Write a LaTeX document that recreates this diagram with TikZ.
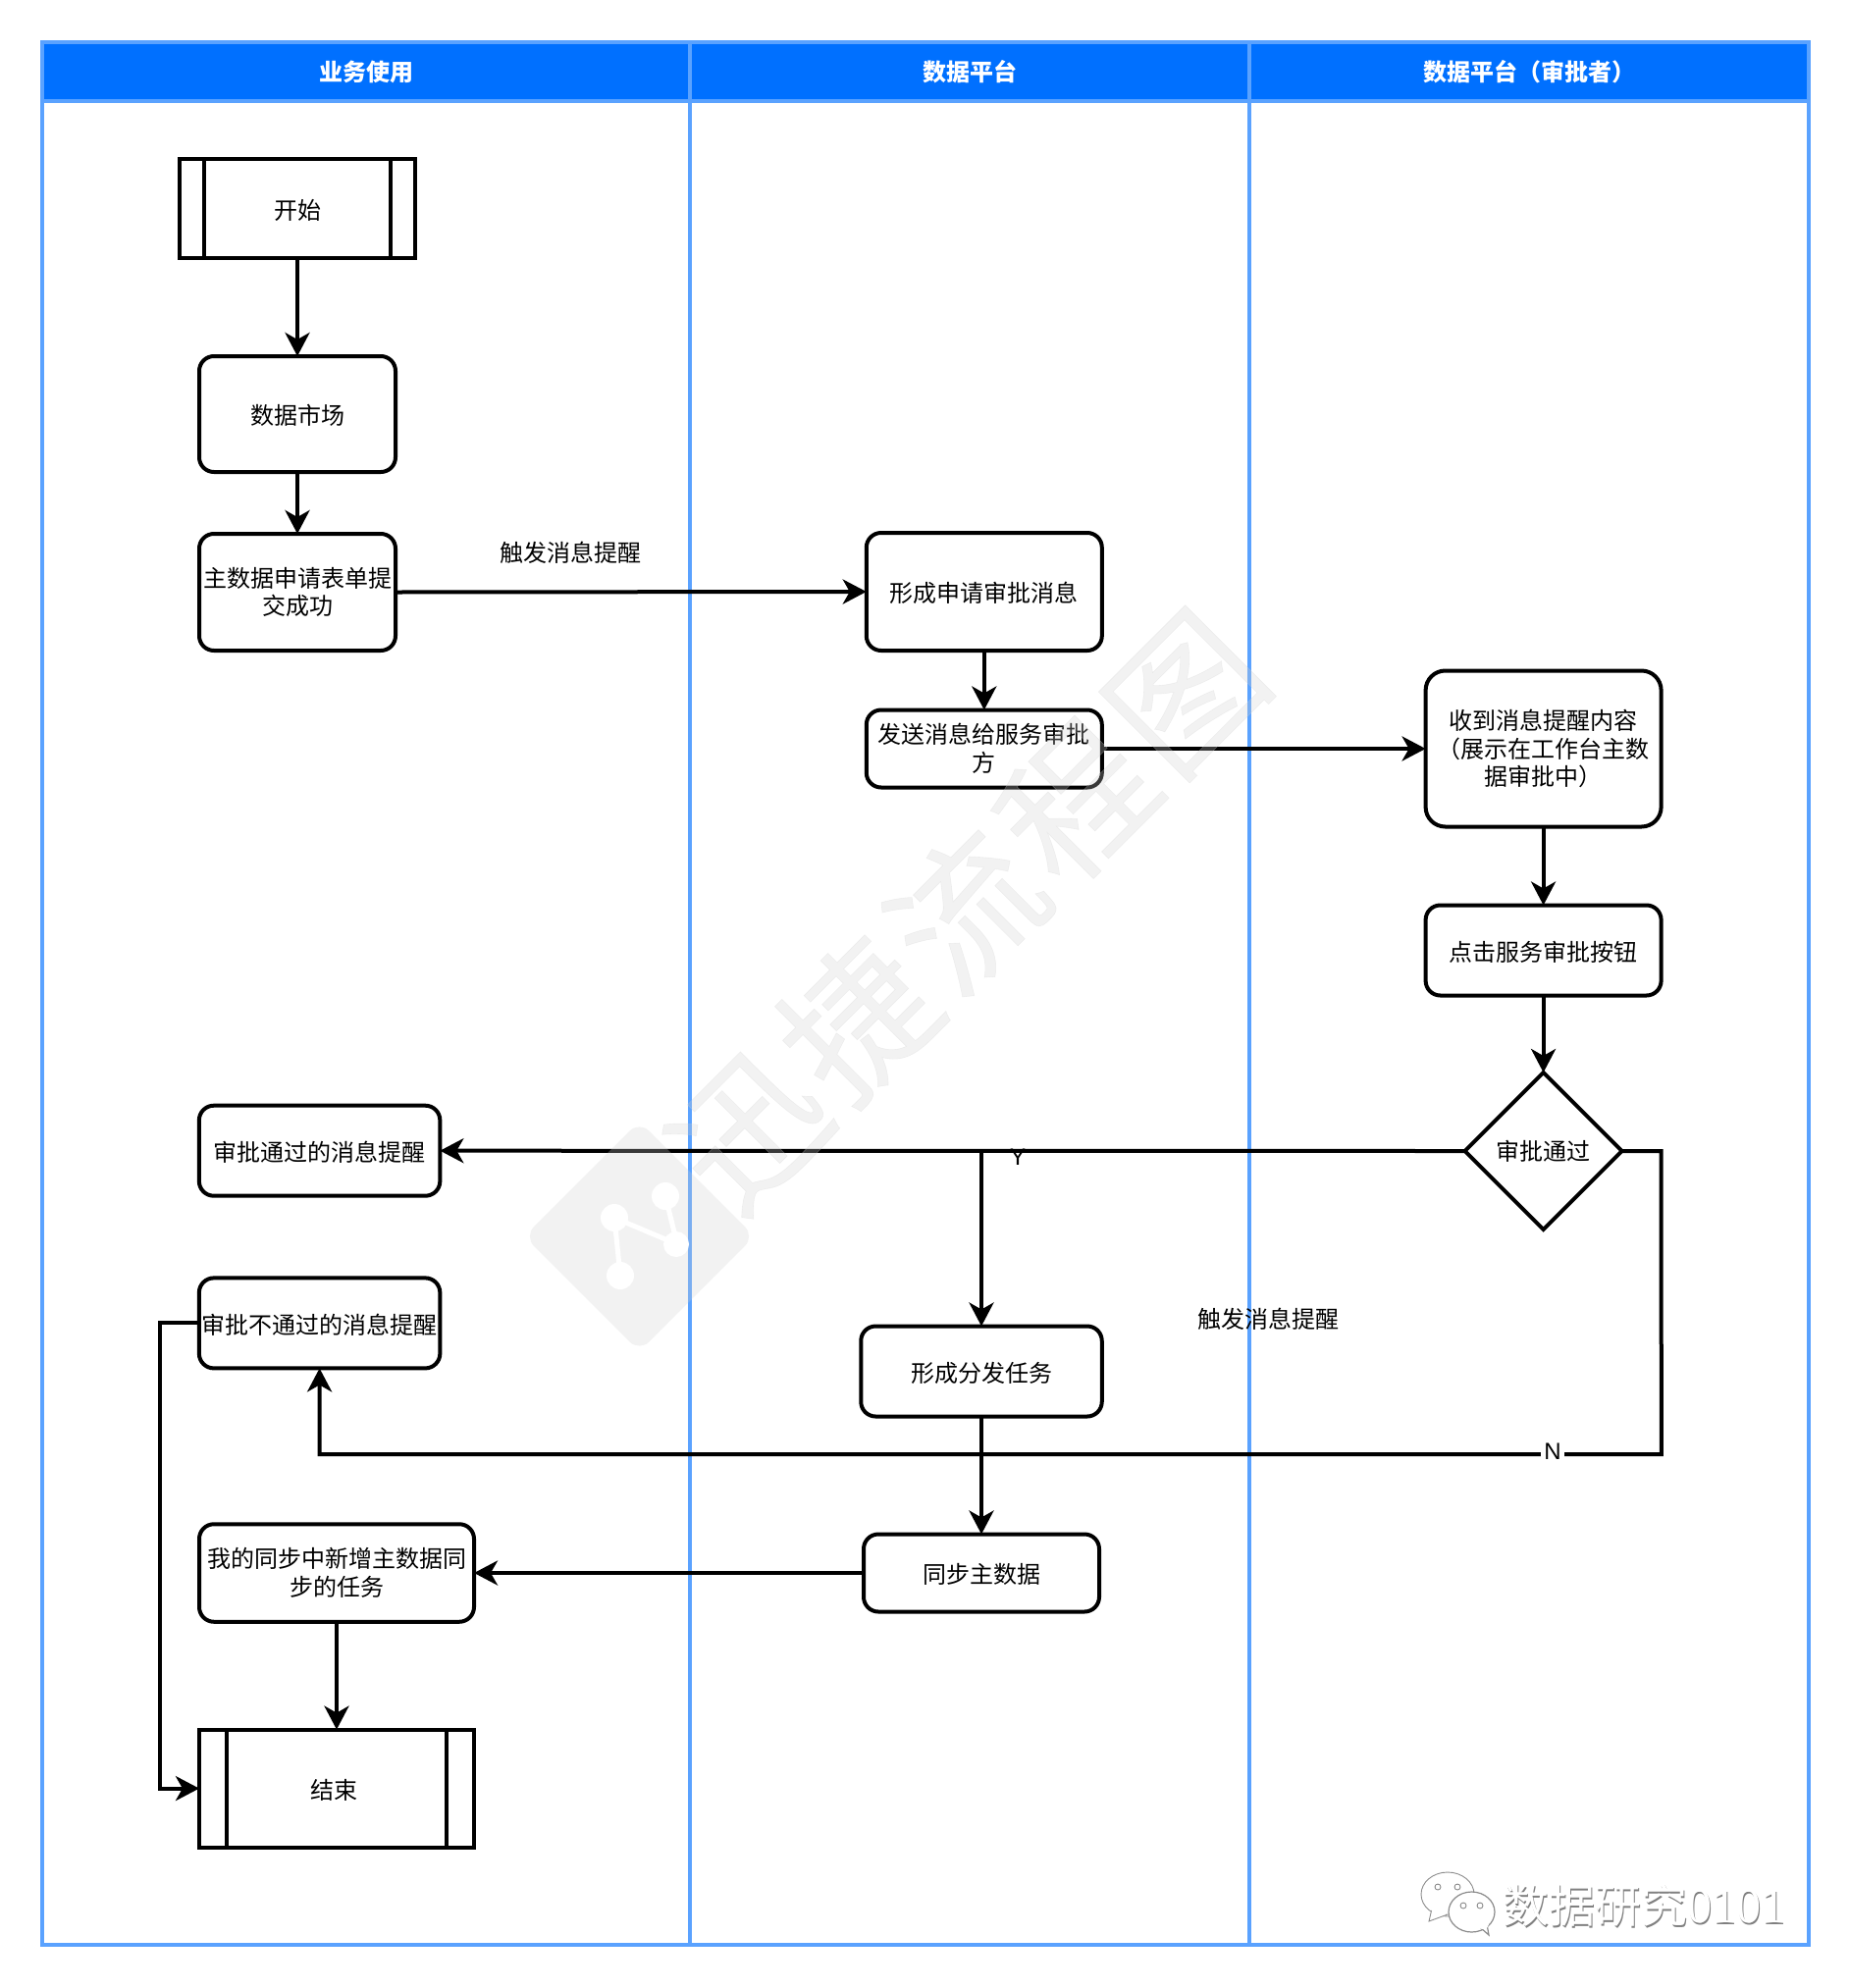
\documentclass[tikz,border=0pt]{standalone}
\usepackage{fontspec}
\setmainfont{Noto Sans CJK SC}
\newfontfamily\latinfont{Liberation Sans}
\newfontfamily\digitfont{Liberation Serif}
\usetikzlibrary{arrows.meta,shapes.geometric}
\definecolor{laneline}{HTML}{5AA2FF}
\definecolor{headfill}{HTML}{0070FF}
\definecolor{wmgray}{HTML}{D0D0D0}
\tikzset{
  base/.style={draw=black,line width=4pt,fill=none,inner sep=0pt,outer sep=0pt,align=center,text=black,font=\fontsize{24}{28.5}\selectfont},
  rbox/.style={base,rounded corners=15pt,execute at begin node={\rule{0pt}{23.5pt}}},
  pbox/.style={base,execute at begin node={\rule{0pt}{23.5pt}}},
  dbox/.style={base,diamond,shape aspect=1},
  innerline/.style={line width=4pt,draw=black},
  lanebody/.style={draw=laneline,line width=4pt,inner sep=0pt,outer sep=0pt},
  lanehead/.style={draw=laneline,fill=headfill,line width=4pt,inner sep=0pt,outer sep=0pt,text=white,font=\fontsize{24}{28}\selectfont\bfseries},
  conn/.style={line width=4pt,draw=black,-{Stealth[length=24pt,width=25pt,inset=7pt]}},
  plainlab/.style={inner sep=0pt,font=\fontsize{24}{28}\selectfont},
  tinylab/.style={inner sep=1pt,font=\latinfont\fontsize{24}{26}\selectfont},
}
\begin{document}
\begin{tikzpicture}[x=1pt,y=-1pt]
\useasboundingbox (0,0) rectangle (1884,2026);
% lanes
\node[lanebody,minimum width=660pt,minimum height=1939pt] (bodya) at (373,1012.5) {};
\node[lanebody,minimum width=570pt,minimum height=1939pt] (bodyb) at (988,1012.5) {};
\node[lanebody,minimum width=570pt,minimum height=1939pt] (bodyc) at (1558,1012.5) {};
\node[lanehead,minimum width=660pt,minimum height=60pt] (heada) at (373,73) {业务使用};
\node[lanehead,minimum width=570pt,minimum height=60pt] (headb) at (988,73) {数据平台};
\node[lanehead,minimum width=570pt,minimum height=60pt] (headc) at (1558,73) {数据平台（审批者）};
% nodes
\node[pbox,minimum width=240pt,minimum height=101pt] (start) at (303,212.5) {开始};
\draw[innerline] ([xshift=24.6pt]start.north west) -- ([xshift=24.6pt]start.south west)
  ([xshift=-24.6pt]start.north east) -- ([xshift=-24.6pt]start.south east);
\node[rbox,minimum width=200pt,minimum height=118pt] (market) at (303,422) {数据市场};
\node[rbox,minimum width=200pt,minimum height=119pt] (form) at (303,603.5) {主数据申请表单提\\交成功};
\node[rbox,minimum width=240pt,minimum height=120pt] (msg) at (1002.8,603) {形成申请审批消息};
\node[rbox,minimum width=240pt,minimum height=79pt] (send) at (1002.8,763) {发送消息给服务审批\\方};
\node[rbox,rounded corners=20pt,minimum width=240pt,minimum height=159pt] (recv) at (1572.6,763) {收到消息提醒内容\\（展示在工作台主数\\据审批中）};
\node[rbox,minimum width=240pt,minimum height=92pt] (click) at (1572.6,968.5) {点击服务审批按钮};
\node[dbox,minimum width=160pt,minimum height=160pt] (dec) at (1572.6,1173) {审批通过};
\node[rbox,minimum width=245.5pt,minimum height=92pt] (okmsg) at (325.6,1172.7) {审批通过的消息提醒};
\node[rbox,minimum width=245.5pt,minimum height=92pt] (nomsg) at (325.6,1348.4) {审批不通过的消息提醒};
\node[rbox,minimum width=245.5pt,minimum height=92pt] (task) at (1000,1397.5) {形成分发任务};
\node[rbox,minimum width=240pt,minimum height=79pt] (sync) at (1000,1603) {同步主数据};
\node[rbox,minimum width=280pt,minimum height=99.5pt] (mine) at (343,1603) {我的同步中新增主数据同\\步的任务};
\node[pbox,minimum width=280pt,minimum height=120pt] (finish) at (343,1822.6) {结束\hspace{5pt}};
\draw[innerline] ([xshift=28.4pt]finish.north west) -- ([xshift=28.4pt]finish.south west)
  ([xshift=-28.4pt]finish.north east) -- ([xshift=-28.4pt]finish.south east);
% helper coordinates
\coordinate (branch) at (task.north |- dec.west);
\coordinate (rcorner) at (recv.east |- dec.east);
\coordinate (rlow) at (1692.8,1482);
\coordinate (llow) at (nomsg.south |- rlow);
\coordinate (wrapa) at (162.8,1348.4);
\coordinate (wrapb) at (162.8,1822.6);
% connectors
\draw[conn] (start.south) -- (market.north);
\draw[conn] (market.south) -- (form.north);
\draw[conn] (form.east) -- (msg.west);
\draw[conn] (msg.south) -- (send.north);
\draw[conn] (send.east) -- (recv.west);
\draw[conn] (recv.south) -- (click.north);
\draw[conn] (click.south) -- (dec.north);
\draw[conn] (dec.west) -- (okmsg.east);
\draw[conn] (branch) -- (task.north);
\draw[conn,line join=miter] (dec.east) -- (rcorner) -- (rlow) -- (llow) -- (nomsg.south);
\draw[conn,line join=miter] (nomsg.west) -- (wrapa) -- (wrapb) -- (finish.west);
\draw[conn] (task.south) -- (sync.north);
\draw[conn] (sync.west) -- (mine.east);
\draw[conn] (mine.south) -- (finish.north);
% labels
\node[plainlab] (laba) at (581.5,563.4) {触发消息提醒};
\node[plainlab] (labb) at (1292,1344) {触发消息提醒};
\node[tinylab] (laby) at (1037,1179) {Y};
\node[tinylab,fill=white,minimum width=24pt] (labn) at (1582,1479) {N};
% watermark laid over the drawing
\begin{scope}[opacity=0.28]
\node[rotate=45,text=wmgray,inner sep=0pt,font=\fontsize{150}{150}\selectfont\addfontfeature{LetterSpace=5,FakeBold=0.4}] (wmtext) at (985,928) {迅捷流程图};
\node[rotate=45,fill=wmgray,rounded corners=14pt,minimum width=166pt,minimum height=166pt,inner sep=0pt] (wmlogo) at (651.5,1260) {};
\end{scope}
\draw[white,line width=5pt] (626,1241) -- (690,1268) -- (678,1219) (626,1241) -- (632,1300);
\fill[white] (626,1241) circle (14) (678,1219) circle (14) (632,1300) circle (14) (689,1268) circle (13);
% corner mark
\draw[draw=black!45,fill=white,line width=0.9pt] (1475,1930.5) ellipse (27 and 22.5);
\draw[draw=black!45,fill=white,line width=0.9pt] (1459,1945) -- (1456,1958) -- (1475,1951) -- cycle;
\fill[white] (1470,1942) ellipse (14 and 9);
\draw[draw=black!45,fill=white,line width=1.2pt] (1499.5,1948.5) ellipse (23.5 and 20.5);
\draw[draw=black!45,fill=white,line width=1.2pt] (1509,1965) -- (1517,1972) -- (1515,1961) -- cycle;
\fill[white] (1511,1961) ellipse (6 and 5);
\foreach \px/\py in {1465/1923,1485/1923,1491/1942,1508/1942}
  \draw[draw=black!50,fill=white,line width=0.8pt] (\px,\py) circle (3);
\node[anchor=west,inner sep=0pt,text=black!50,font=\fontsize{47}{50}\selectfont] (marka) at (1532.2,1943.2) {数据研究{\digitfont\fontsize{50}{50}\selectfont 0101}};
\node[anchor=west,inner sep=0pt,text=white,font=\fontsize{47}{50}\selectfont] (markb) at (1531,1942) {数据研究{\digitfont\fontsize{50}{50}\selectfont 0101}};
\end{tikzpicture}
\end{document}
